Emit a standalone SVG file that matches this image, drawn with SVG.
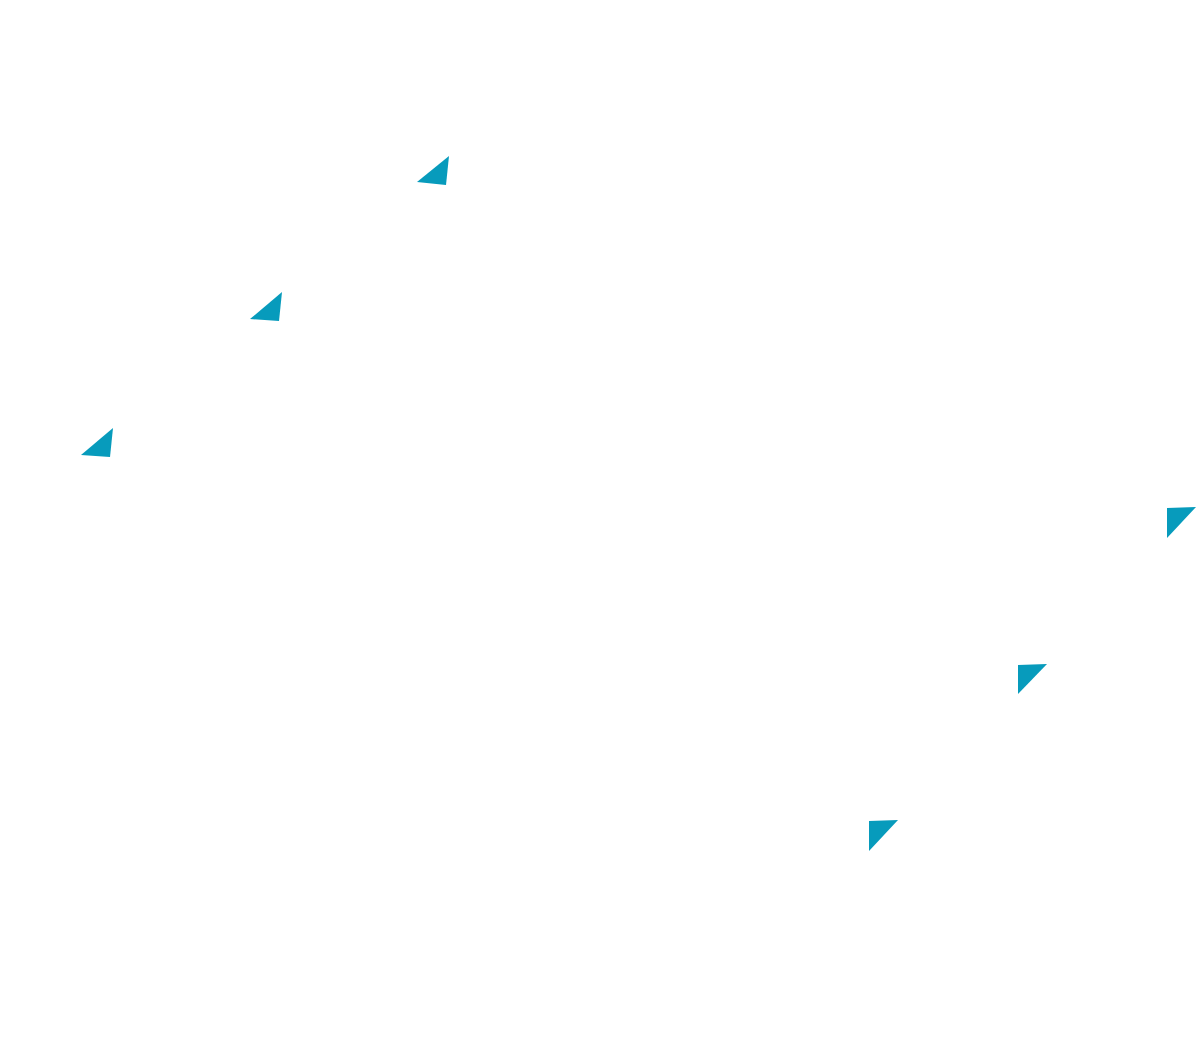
<svg xmlns="http://www.w3.org/2000/svg" width="1196" height="1064" viewBox="0 0 1196 1064">
<style>
.tri{fill:#079bbc;stroke:none}
</style>
<rect x="0" y="0" width="1196" height="1064" fill="#ffffff"/>
<g id="shapes">
<polygon class="tri" points="449,156 417,182 446,185"/>
<polygon class="tri" points="282,292 250,319 279,321"/>
<polygon class="tri" points="113,428 81,455 110,457"/>
<polygon class="tri" points="1167,508 1196,507 1167,538"/>
<polygon class="tri" points="1018,665 1047,664 1018,694"/>
<polygon class="tri" points="869,821 898,820 869,851"/>
</g>
</svg>
